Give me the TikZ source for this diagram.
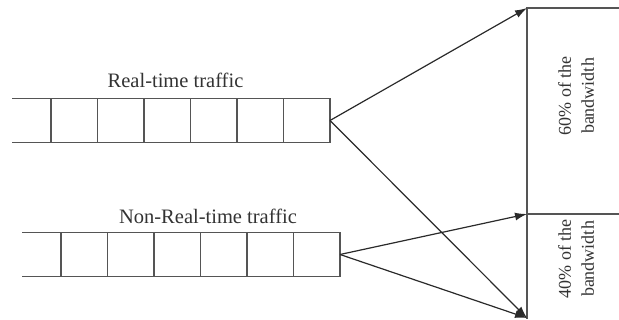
\documentclass[tikz,border=0pt]{standalone}
\usepackage{fontspec}
\setmainfont{Liberation Serif}
\usetikzlibrary{arrows.meta}
\definecolor{boxgray}{HTML}{555555}
\definecolor{arrgray}{HTML}{2A2A2A}
\tikzset{
  cell/.style={draw=boxgray, line width=1.1pt, minimum width=46.5pt, minimum height=44pt, inner sep=0pt, outer sep=0pt, anchor=west},
  stub/.style={draw=boxgray, line width=1.1pt},
  panel/.style={draw=boxgray, line width=1.1pt},
  flow/.style={draw=arrgray, line width=1.2pt, -{Latex[length=12pt,width=8pt]}},
  lbl/.style={text=black!80, font=\fontsize{20.5}{24}\selectfont, inner sep=0pt},
  plbl/.style={text=black!80, font=\fontsize{18}{23}\selectfont, inner sep=0pt, align=center, rotate=90},
}
\begin{document}
\begin{tikzpicture}[x=1pt,y=-1pt]
\useasboundingbox (0,0) rectangle (619,320);
% top queue
\node[cell] (r1) at (51,120.5) {};
\node[cell] (r2) at (r1.east) {};
\node[cell] (r3) at (r2.east) {};
\node[cell] (r4) at (r3.east) {};
\node[cell] (r5) at (r4.east) {};
\node[cell] (r6) at (r5.east) {};
\coordinate (rs1) at (12,98.5);
\coordinate (rs2) at (12,142.5);
\draw[stub] (rs1) -- (r1.north west);
\draw[stub] (rs2) -- (r1.south west);
% bottom queue
\node[cell] (n1) at (61,254.5) {};
\node[cell] (n2) at (n1.east) {};
\node[cell] (n3) at (n2.east) {};
\node[cell] (n4) at (n3.east) {};
\node[cell] (n5) at (n4.east) {};
\node[cell] (n6) at (n5.east) {};
\coordinate (ns1) at (22,232.5);
\coordinate (ns2) at (22,276.5);
\draw[stub] (ns1) -- (n1.north west);
\draw[stub] (ns2) -- (n1.south west);
% labels
\node[lbl] (rtl) at (175.5,80) {Real-time traffic};
\node[lbl] (nrtl) at (208,216) {Non-Real-time traffic};
% bandwidth panel
\coordinate (pTR) at (619,8);
\coordinate (pT) at (527,8);
\coordinate (pM) at (527,214);
\coordinate (pMR) at (619,214);
\coordinate (pB) at (527,319);
\draw[panel] (pTR) -- (pT) -- (pB);
\draw[panel] (pM) -- (pMR);
\node[plbl] (b60) at (576,96) {60\% of the\\bandwidth};
\node[plbl] (b40) at (576,259) {40\% of the\\bandwidth};
% arrows
\coordinate (pBt) at (527,318);
\draw[flow] (r6.east) -- (pT);
\draw[flow] (r6.east) -- (pBt);
\draw[flow] (n6.east) -- (pM);
\draw[flow] (n6.east) -- (pBt);
\end{tikzpicture}
\end{document}
